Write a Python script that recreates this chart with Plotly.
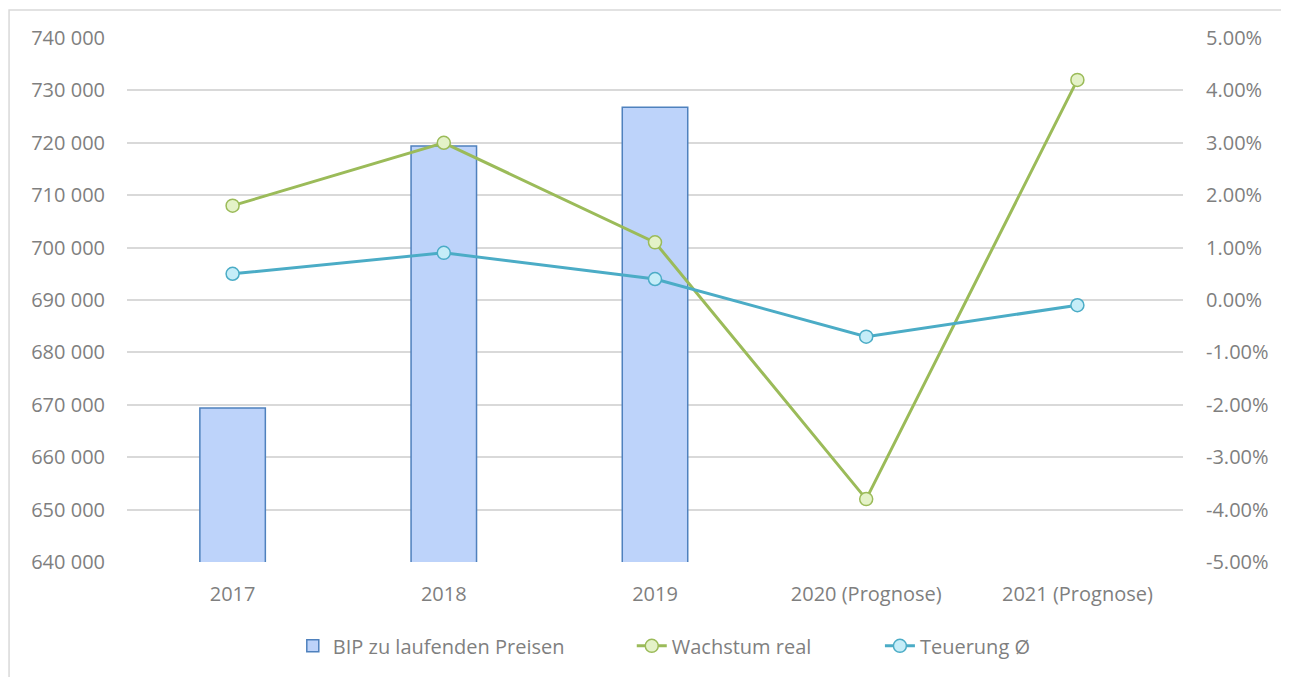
import plotly.graph_objects as go

categories = ["2017", "2018", "2019", "2020 (Prognose)", "2021 (Prognose)"]
bip = [669400, 719400, 726800, None, None]
wachstum = [1.8, 3.0, 1.1, -3.8, 4.2]
teuerung = [0.5, 0.9, 0.4, -0.7, -0.1]

left_ticks = [640000, 650000, 660000, 670000, 680000, 690000, 700000, 710000, 720000, 730000, 740000]
left_labels = ["640 000", "650 000", "660 000", "670 000", "680 000", "690 000",
               "700 000", "710 000", "720 000", "730 000", "740 000"]
right_ticks = [-5, -4, -3, -2, -1, 0, 1, 2, 3, 4, 5]
right_labels = ["-5.00%", "-4.00%", "-3.00%", "-2.00%", "-1.00%", "0.00%",
                "1.00%", "2.00%", "3.00%", "4.00%", "5.00%"]

FONT = "Open Sans"
TXT = "#7F7F7F"

fig = go.Figure()
fig.add_trace(go.Bar(
    x=categories, y=bip, name="BIP zu laufenden Preisen",
    marker=dict(color="#BDD3FA", line=dict(color="#4F81BD", width=1.5)),
    width=0.31, yaxis="y", legend="legend",
))
fig.add_trace(go.Scatter(
    x=categories, y=wachstum, name="Wachstum real", mode="lines+markers",
    line=dict(color="#9BBB59", width=3),
    marker=dict(size=13, color="#E4F2C8", line=dict(color="#9BBB59", width=1.5)),
    yaxis="y2", legend="legend2",
))
fig.add_trace(go.Scatter(
    x=categories, y=teuerung, name="Teuerung Ø", mode="lines+markers",
    line=dict(color="#4BACC6", width=3),
    marker=dict(size=13, color="#C5EDF8", line=dict(color="#4BACC6", width=1.5)),
    yaxis="y2", legend="legend3",
))

legfont = dict(family=FONT, size=20, color=TXT)
fig.update_layout(
    width=1281, height=669,
    margin=dict(l=119, r=106, t=30, b=115),
    paper_bgcolor="white", plot_bgcolor="white",
    font=dict(family=FONT, size=20, color=TXT),
    showlegend=True,
    legend=dict(x=0.157, xanchor="left", y=-0.160, yanchor="middle", font=legfont,
                bgcolor="rgba(0,0,0,0)"),
    legend2=dict(x=0.478, xanchor="left", y=-0.160, yanchor="middle", font=legfont,
                 bgcolor="rgba(0,0,0,0)"),
    legend3=dict(x=0.713, xanchor="left", y=-0.160, yanchor="middle", font=legfont,
                 bgcolor="rgba(0,0,0,0)"),
    xaxis=dict(type="category", showgrid=False, showline=False, zeroline=False,
               ticks="", ticklabelstandoff=18,
               tickfont=dict(family=FONT, size=20, color=TXT)),
    yaxis=dict(range=[640000, 740000], tickvals=left_ticks, ticktext=left_labels,
               showgrid=True, gridcolor="#D9D9D9", gridwidth=1.5, zeroline=False,
               showline=False, ticklabelstandoff=21,
               tickfont=dict(family=FONT, size=20, color=TXT)),
    yaxis2=dict(range=[-5, 5], tickvals=right_ticks, ticktext=right_labels,
                overlaying="y", side="right", showgrid=False, zeroline=False,
                showline=False, ticklabelstandoff=22,
                tickfont=dict(family=FONT, size=20, color=TXT)),
    shapes=[dict(type="rect", xref="paper", yref="paper",
                 x0=-0.1117, x1=1.0994, y0=-0.25, y1=1.0534,
                 line=dict(color="#D9D9D9", width=1.5), fillcolor="rgba(0,0,0,0)",
                 layer="below")],
)

fig.write_html("out.html")
